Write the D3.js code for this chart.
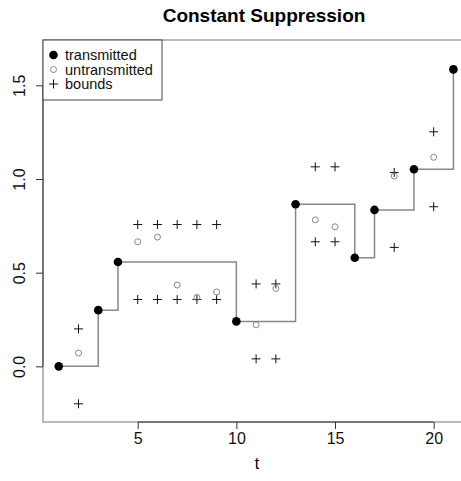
<!DOCTYPE html>
<html>
<head>
<meta charset="utf-8">
<script src="https://cdn.jsdelivr.net/npm/d3@7"></script>
<style>
  body { margin: 0; background: #fff; }
  text { font-family: "Liberation Sans", Arial, sans-serif; }
</style>
</head>
<body>
<div id="container"></div>
<script>
// transmitted values (filled dots, step line)
const sentT = [1, 3, 4, 10, 13, 16, 17, 19, 21];
const sentV = [0.0, 0.30, 0.557, 0.24, 0.865, 0.58, 0.835, 1.052, 1.585];

// untransmitted values (open circles)
const heldT = [2, 5, 6, 7, 8, 9, 11, 12, 14, 15, 18, 20];
const heldV = [0.071, 0.665, 0.69, 0.434, 0.368, 0.397, 0.222, 0.416, 0.782, 0.745, 1.016, 1.116];

// bounds (+)
const boundT = [2, 2, 5, 5, 6, 6, 7, 7, 8, 8, 9, 9, 11, 11, 12, 12, 14, 14, 15, 15, 18, 18, 20, 20];
const boundV = [0.2, -0.2, 0.757, 0.357, 0.757, 0.357, 0.757, 0.357, 0.757, 0.357, 0.757, 0.357,
                0.44, 0.04, 0.44, 0.04, 1.065, 0.665, 1.065, 0.665, 1.035, 0.635, 1.252, 0.852];

const xTicks = [5, 10, 15, 20];
const yTicks = [0, 0.5, 1, 1.5];
const legendLabels = ["transmitted", "untransmitted", "bounds"];

const w = 461, h = 481;
const svg = d3.select("#container").append("svg").attr("width", w).attr("height", h);

const xScale = d3.scaleLinear().domain([0.2, 21.8]).range([43, 469.2]);
const yScale = d3.scaleLinear().domain([-0.297, 1.742]).range([422, 40]);

// box
svg.append("rect")
  .attr("x", 43).attr("y", 40)
  .attr("width", xScale(21.8) - 43).attr("height", 382)
  .attr("fill", "none").attr("stroke", "#777").attr("stroke-width", 1);

// axes
const xAxis = d3.axisBottom(xScale).tickValues(xTicks).tickFormat(d3.format("d")).tickSize(7).tickPadding(4);
const gx = svg.append("g").attr("transform", "translate(0,422)").call(xAxis);
gx.select(".domain").attr("d", `M${xScale(5)},0H${xScale(20)}`).attr("stroke", "#333");
gx.selectAll(".tick line").attr("stroke", "#333");
gx.selectAll("text").attr("font-size", 16).attr("fill", "#111");

const yAxis = d3.axisLeft(yScale).tickValues(yTicks).tickFormat(d3.format(".1f")).tickSize(7);
const gy = svg.append("g").attr("transform", "translate(43,0)").call(yAxis);
gy.select(".domain").attr("d", `M0,${yScale(0)}V${yScale(1.5)}`).attr("stroke", "#333");
gy.selectAll(".tick line").attr("stroke", "#333");
gy.selectAll("text")
  .attr("font-size", 16).attr("fill", "#111")
  .attr("x", 0).attr("dy", 0)
  .attr("text-anchor", "middle")
  .attr("transform", "translate(-18,0) rotate(-90)");

// step line
const sent = sentT.map((t, i) => [t, sentV[i]]);
const line = d3.line().x(d => xScale(d[0])).y(d => yScale(d[1])).curve(d3.curveStepAfter);
svg.append("path").datum(sent)
  .attr("d", line).attr("fill", "none")
  .attr("stroke", "#888").attr("stroke-width", 1.5);

// bounds
svg.append("g").selectAll("path")
  .data(boundT.map((t, i) => [t, boundV[i]]))
  .enter().append("path")
    .attr("d", d => `M${xScale(d[0]) - 4.5},${yScale(d[1])}h9M${xScale(d[0])},${yScale(d[1]) - 4.5}v9`)
    .attr("stroke", "#111").attr("stroke-width", 1);

// untransmitted
svg.append("g").selectAll("circle")
  .data(heldT.map((t, i) => [t, heldV[i]]))
  .enter().append("circle")
    .attr("cx", d => xScale(d[0])).attr("cy", d => yScale(d[1])).attr("r", 3)
    .attr("fill", "none").attr("stroke", "#888").attr("stroke-width", 1);

// transmitted
svg.append("g").selectAll("circle")
  .data(sent)
  .enter().append("circle")
    .attr("cx", d => xScale(d[0])).attr("cy", d => yScale(d[1])).attr("r", 4.3)
    .attr("fill", "#000");

// title and label
svg.append("text").attr("x", 264).attr("y", 22).attr("text-anchor", "middle")
  .attr("font-size", 19).attr("font-weight", "bold").text("Constant Suppression");
svg.append("text").attr("x", 257).attr("y", 469).attr("text-anchor", "middle")
  .attr("font-size", 16).text("t");

// legend
const lg = svg.append("g");
lg.append("rect").attr("x", 43).attr("y", 40).attr("width", 119).attr("height", 60)
  .attr("fill", "#fff").attr("stroke", "#444");
const rowY = [55, 69.5, 84];
lg.append("circle").attr("cx", 53.5).attr("cy", rowY[0]).attr("r", 4.3).attr("fill", "#000");
lg.append("circle").attr("cx", 53.5).attr("cy", rowY[1]).attr("r", 3)
  .attr("fill", "none").attr("stroke", "#888");
lg.append("path").attr("d", `M49,${rowY[2]}h9M53.5,${rowY[2] - 4.5}v9`).attr("stroke", "#111");
lg.selectAll("text.lab").data(legendLabels).enter().append("text")
  .attr("class", "lab")
  .attr("x", 65).attr("y", (d, i) => rowY[i] + 5)
  .attr("font-size", 14.5).attr("fill", "#111").text(d => d);
</script>
</body>
</html>
